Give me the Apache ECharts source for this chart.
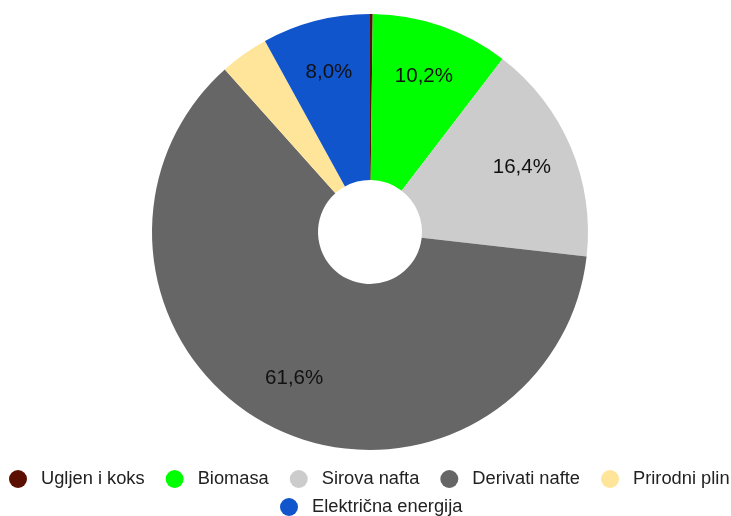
<!DOCTYPE html>
<html>
<head>
<meta charset="utf-8">
<script src="https://cdn.jsdelivr.net/npm/echarts@6/dist/echarts.min.js"></script>
<style>
  html, body { margin: 0; padding: 0; background: #fff; }
  #chart { width: 731px; height: 516px; }
</style>
</head>
<body>
<div id="chart"></div>
<script>
// 区分（凡例の並び順）
const categories = ['Ugljen i koks', 'Biomasa', 'Sirova nafta', 'Derivati nafte', 'Prirodni plin', 'Električna energija'];

// 各区分の割合（%）
const shares = [0.2, 10.2, 16.4, 61.6, 3.6, 8.0];

// 各区分の色
const colors = ['#5b0f00', '#00ff00', '#cccccc', '#666666', '#ffe599', '#1155cc'];

const chart = echarts.init(document.querySelector('#chart'));

const pieData = categories.map((name, i) => ({
  name: name,
  value: shares[i],
  itemStyle: { color: colors[i] }
}));

// 数値をカンマ区切りの小数で表示する
const fmt = v => v.toFixed(1).replace('.', ',') + '%';

const fontFamily = 'Liberation Sans, Arial, sans-serif';

// 凡例の共通設定（2行に分けて表示する）
const legendBase = {
  padding: 0,
  icon: 'circle',
  itemWidth: 36,
  itemHeight: 18,
  itemGap: 21,
  symbolKeepAspect: true,
  textStyle: { fontSize: 18.3, color: '#222', fontFamily: fontFamily }
};

const option = {
  animation: false,
  color: colors,
  textStyle: { fontFamily: fontFamily },
  legend: [
    Object.assign({}, legendBase, { left: 9, top: 470, data: categories.slice(0, 5) }),
    Object.assign({}, legendBase, { left: 280, top: 498, data: categories.slice(5) })
  ],
  series: [
    {
      // ドーナツ本体
      type: 'pie',
      center: [370, 232],
      radius: [52, 218],
      startAngle: 90,
      clockwise: true,
      avoidLabelOverlap: false,
      silent: true,
      itemStyle: { borderWidth: 0 },
      label: { show: false },
      labelLine: { show: false },
      data: pieData
    },
    {
      // ラベル用の透明な系列（ラベルを外寄りに置くため）
      type: 'pie',
      center: [370, 232],
      radius: [106, 218],
      startAngle: 90,
      clockwise: true,
      avoidLabelOverlap: false,
      silent: true,
      itemStyle: { color: 'rgba(0,0,0,0)', borderWidth: 0 },
      label: {
        show: true,
        position: 'inside',
        fontSize: 20.5,
        color: '#111',
        fontFamily: fontFamily,
        formatter: p => (p.value >= 5 ? fmt(p.value) : '')
      },
      labelLine: { show: false },
      data: categories.map((name, i) => ({ name: name, value: shares[i] }))
    }
  ]
};

chart.setOption(option);
</script>
</body>
</html>
